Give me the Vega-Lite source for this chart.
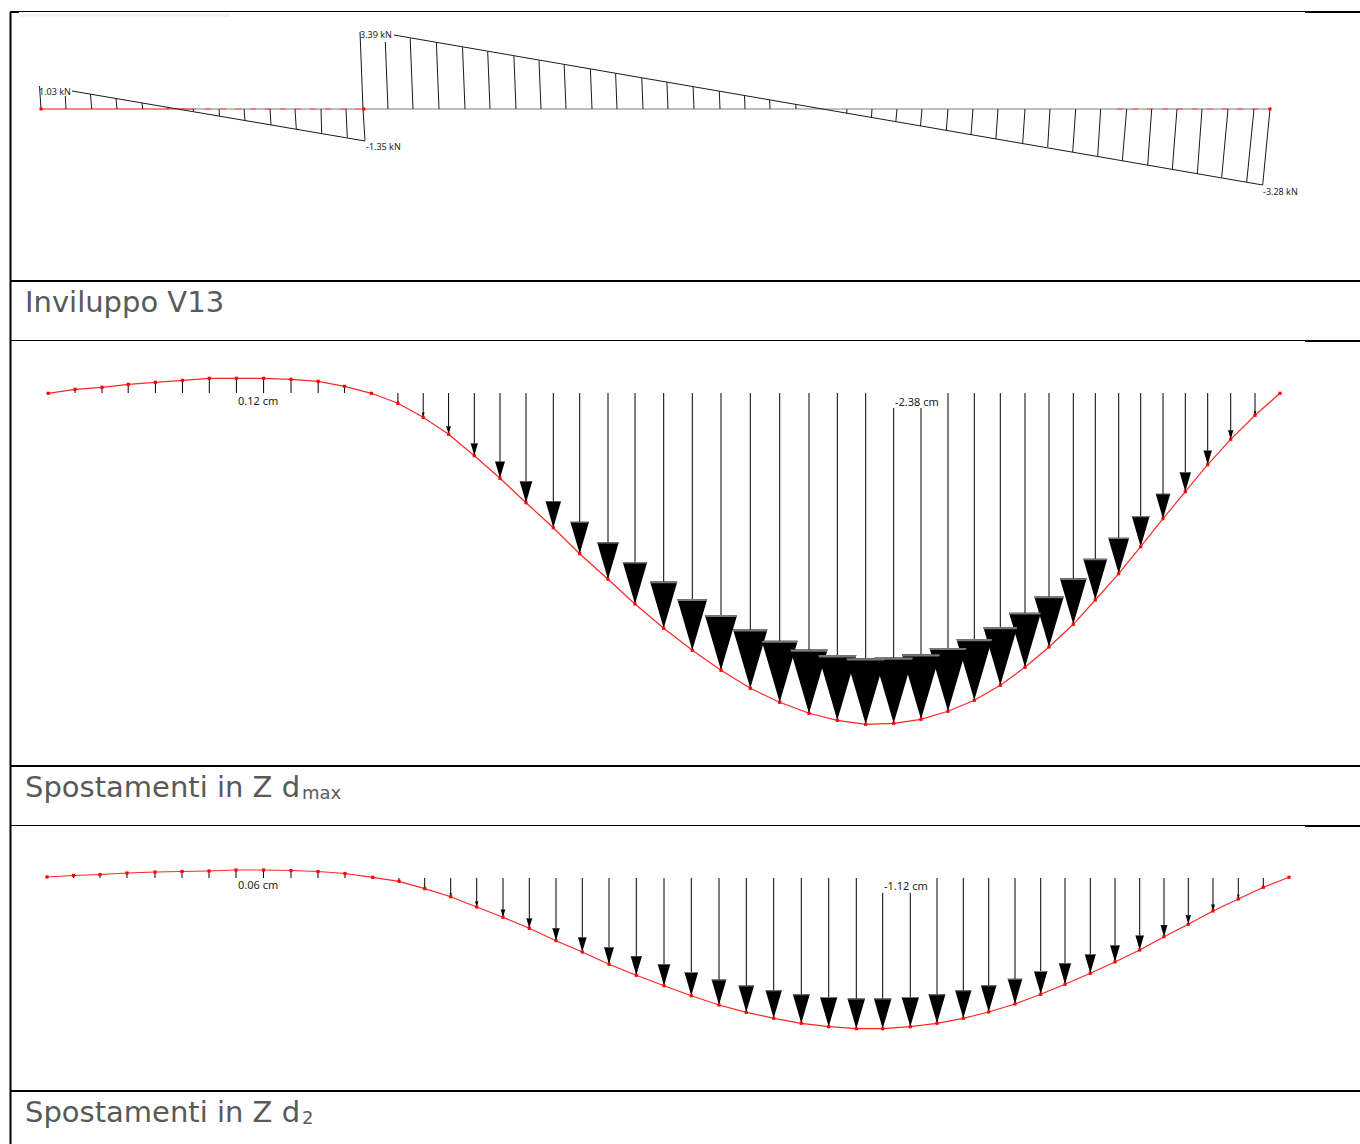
{
"$schema":"https://vega.github.io/schema/vega-lite/v6.json",
"width":1360,"height":1144,"padding":0,
"autosize":"none",
"background":"white",
"config":{"view":{"stroke":null}},
"datasets":{
"frameThick":[
{"x":10.5,"x2":10.5,"y":12,"y2":1144},
{"x":10,"x2":1360,"y":281,"y2":281},
{"x":10,"x2":1360,"y":766,"y2":766},
{"x":10,"x2":1360,"y":1091,"y2":1091},
{"x":1305,"x2":1360,"y":12,"y2":12},
{"x":1305,"x2":1360,"y":341,"y2":341},
{"x":1305,"x2":1360,"y":826,"y2":826},
{"x":10,"x2":19,"y":12,"y2":12}
],
"frameThin":[
{"x":10,"x2":1360,"y":11.5,"y2":11.5},
{"x":10,"x2":1360,"y":340.5,"y2":340.5},
{"x":10,"x2":1360,"y":825.5,"y2":825.5}
],
"faint":[{"x":20,"x2":230,"y":15.5,"y2":15.5}],
"shearAxisGrey":[{"x":180,"x2":1270,"y":109,"y2":109}],
"shearAxisRed":[{"x":41,"x2":190,"y":109,"y2":109}],
"shearAxisDash":[{"x":190,"x2":364,"y":109,"y2":109},{"x":1117,"x2":1262,"y":109,"y2":109}],
"shearNodes":[{"x":41,"y":109},{"x":364,"y":109},{"x":1270,"y":109}],
"shearChords":[{"x":72,"x2":365,"y":91,"y2":141},{"x":394,"x2":1262.7,"y":35,"y2":185}],
"shearTicks":[
{"x":41,"y":109,"xTip":39.5,"yTip":86},{"x":66,"y":109,"xTip":65.3,"yTip":96},{"x":91.7,"y":109,"xTip":90.5,"yTip":94},{"x":117,"y":109,"xTip":116,"yTip":98.7},{"x":142.7,"y":109,"xTip":142,"yTip":103},{"x":168,"y":109,"xTip":168,"yTip":107},{"x":193,"y":109,"xTip":193.5,"yTip":111},{"x":219,"y":109,"xTip":219.5,"yTip":116},{"x":244,"y":109,"xTip":245,"yTip":120.5},{"x":270,"y":109,"xTip":271,"yTip":125},{"x":295,"y":109,"xTip":296.3,"yTip":129},{"x":321,"y":109,"xTip":321.7,"yTip":133},{"x":346,"y":109,"xTip":347.3,"yTip":137.5},{"x":363,"y":109,"xTip":365,"yTip":140.5},
{"x":363,"y":109,"xTip":360,"yTip":32},{"x":388,"y":109,"xTip":385.3,"yTip":42},{"x":413,"y":109,"xTip":410.2,"yTip":38.3},{"x":439,"y":109,"xTip":436.4,"yTip":42.8},{"x":465,"y":109,"xTip":462.5,"yTip":47.3},{"x":490,"y":109,"xTip":487.7,"yTip":51.6},{"x":516,"y":109,"xTip":513.9,"yTip":56.1},{"x":541,"y":109,"xTip":539,"yTip":60.4},{"x":566,"y":109,"xTip":564.2,"yTip":64.7},{"x":592,"y":109,"xTip":590.4,"yTip":69.2},{"x":617,"y":109,"xTip":615.6,"yTip":73.5},{"x":643,"y":109,"xTip":641.8,"yTip":78},{"x":668,"y":109,"xTip":666.9,"yTip":82.3},{"x":694,"y":109,"xTip":693.1,"yTip":86.8},{"x":720,"y":109,"xTip":719.3,"yTip":91.3},{"x":745,"y":109,"xTip":744.5,"yTip":95.6},{"x":770,"y":109,"xTip":769.6,"yTip":99.9},{"x":796,"y":109,"xTip":795.8,"yTip":104.4},
{"x":847,"y":109,"xTip":846.7,"yTip":113.3},{"x":872,"y":109,"xTip":871.4,"yTip":117.6},{"x":897,"y":109,"xTip":895.8,"yTip":122},{"x":922,"y":109,"xTip":920.5,"yTip":126},{"x":948,"y":109,"xTip":946.3,"yTip":130.5},{"x":973,"y":109,"xTip":971,"yTip":134.8},{"x":998,"y":109,"xTip":995.9,"yTip":139},{"x":1025,"y":109,"xTip":1022.7,"yTip":143},{"x":1050,"y":109,"xTip":1047.7,"yTip":147},{"x":1075.7,"y":109,"xTip":1072.7,"yTip":152},{"x":1100.7,"y":109,"xTip":1097.7,"yTip":156},{"x":1126.7,"y":109,"xTip":1122.3,"yTip":161},{"x":1151.7,"y":109,"xTip":1147.7,"yTip":165},{"x":1177,"y":109,"xTip":1172.3,"yTip":169.3},{"x":1202,"y":109,"xTip":1197.3,"yTip":174},{"x":1228,"y":109,"xTip":1221.7,"yTip":177.5},{"x":1254,"y":109,"xTip":1246.7,"yTip":182},{"x":1270,"y":109,"xTip":1262.7,"yTip":185}
],
"beam":[
{"p":"dmax","x":48.2,"y":393.3,"top":393,"len":0},{"p":"dmax","x":75,"y":389.3,"top":393,"len":-4},{"p":"dmax","x":102,"y":387.3,"top":393,"len":-6},{"p":"dmax","x":128.2,"y":384.3,"top":393,"len":-9},{"p":"dmax","x":155.4,"y":382.3,"top":393,"len":-11},{"p":"dmax","x":182.5,"y":380.3,"top":393,"len":-13},{"p":"dmax","x":209.3,"y":378.3,"top":393,"len":-15},{"p":"dmax","x":236.4,"y":378.3,"top":393,"len":-15},{"p":"dmax","x":263.6,"y":378.3,"top":393,"len":-15},{"p":"dmax","x":291,"y":379.3,"top":393,"len":-14},{"p":"dmax","x":318.2,"y":381.3,"top":393,"len":-12},{"p":"dmax","x":344.6,"y":386.3,"top":393,"len":-7},{"p":"dmax","x":371.4,"y":393.3,"top":393,"len":0},
{"p":"dmax","x":397.9,"y":403.3,"top":393,"len":10},{"p":"dmax","x":423.2,"y":417.3,"top":393,"len":24},{"p":"dmax","x":448.6,"y":434.3,"top":393,"len":41},{"p":"dmax","x":474.3,"y":455.7,"top":393,"len":62},{"p":"dmax","x":500,"y":478.3,"top":393,"len":84},{"p":"dmax","x":526,"y":502.7,"top":393,"len":109},{"p":"dmax","x":553.3,"y":527.7,"top":393,"len":134},{"p":"dmax","x":579.7,"y":553.7,"top":393,"len":160},{"p":"dmax","x":608,"y":579.3,"top":393,"len":185},{"p":"dmax","x":635,"y":604,"top":393,"len":210},{"p":"dmax","x":663.7,"y":628.3,"top":393,"len":234},{"p":"dmax","x":692.3,"y":650.3,"top":393,"len":256},{"p":"dmax","x":721,"y":670.3,"top":393,"len":276},{"p":"dmax","x":750.3,"y":688.3,"top":393,"len":294},{"p":"dmax","x":779.7,"y":702.3,"top":393,"len":308},{"p":"dmax","x":809,"y":713.3,"top":393,"len":319},{"p":"dmax","x":837.3,"y":720.3,"top":393,"len":326},{"p":"dmax","x":865.7,"y":724.3,"top":393,"len":330},{"p":"dmax","x":893.7,"y":723.3,"top":408,"len":329},{"p":"dmax","x":921,"y":719.3,"top":408,"len":325},{"p":"dmax","x":948,"y":711.3,"top":393,"len":317},{"p":"dmax","x":974.3,"y":700.3,"top":393,"len":306},{"p":"dmax","x":1000.3,"y":685.3,"top":393,"len":291},{"p":"dmax","x":1025,"y":667.3,"top":393,"len":273},{"p":"dmax","x":1049,"y":647,"top":393,"len":253},{"p":"dmax","x":1073.3,"y":624.3,"top":393,"len":230},{"p":"dmax","x":1095.3,"y":600,"top":393,"len":206},{"p":"dmax","x":1118.7,"y":573.7,"top":393,"len":180},{"p":"dmax","x":1140.7,"y":546.7,"top":393,"len":153},{"p":"dmax","x":1163,"y":518.7,"top":393,"len":125},{"p":"dmax","x":1185.3,"y":491.7,"top":393,"len":98},{"p":"dmax","x":1207.7,"y":464.7,"top":393,"len":71},{"p":"dmax","x":1230.7,"y":439.3,"top":393,"len":46},{"p":"dmax","x":1255,"y":415.3,"top":393,"len":21},{"p":"dmax","x":1280,"y":393.3,"top":393,"len":0},
{"p":"d2","x":47,"y":877,"top":878,"len":0},{"p":"d2","x":73.5,"y":875.5,"top":878,"len":-2.5},{"p":"d2","x":100,"y":874.5,"top":878,"len":-3.5},{"p":"d2","x":127,"y":873,"top":878,"len":-5},{"p":"d2","x":155,"y":872,"top":878,"len":-6},{"p":"d2","x":182,"y":871.5,"top":878,"len":-6.5},{"p":"d2","x":209,"y":871,"top":878,"len":-7},{"p":"d2","x":236,"y":870,"top":878,"len":-8},{"p":"d2","x":263.5,"y":870,"top":878,"len":-8},{"p":"d2","x":291,"y":870.5,"top":878,"len":-7.5},{"p":"d2","x":318,"y":871.5,"top":878,"len":-6.5},{"p":"d2","x":345,"y":873.5,"top":878,"len":-4.5},{"p":"d2","x":372.7,"y":877.3,"top":878,"len":-1},
{"p":"d2","x":399,"y":881.3,"top":878,"len":3},{"p":"d2","x":424.7,"y":888.7,"top":878,"len":11},{"p":"d2","x":450.7,"y":896.7,"top":878,"len":19},{"p":"d2","x":476.7,"y":907,"top":878,"len":29},{"p":"d2","x":503,"y":917.3,"top":878,"len":39},{"p":"d2","x":529.3,"y":928.3,"top":878,"len":50},{"p":"d2","x":556,"y":940.7,"top":878,"len":63},{"p":"d2","x":582.3,"y":952,"top":878,"len":74},{"p":"d2","x":609,"y":964.3,"top":878,"len":86},{"p":"d2","x":636.3,"y":975.3,"top":878,"len":97},{"p":"d2","x":664,"y":985.7,"top":878,"len":108},{"p":"d2","x":691.3,"y":995.7,"top":878,"len":118},{"p":"d2","x":719,"y":1005,"top":878,"len":127},{"p":"d2","x":746.3,"y":1012.3,"top":878,"len":134},{"p":"d2","x":773.7,"y":1018.3,"top":878,"len":140},{"p":"d2","x":801.3,"y":1023.3,"top":878,"len":145},{"p":"d2","x":828.7,"y":1026.7,"top":878,"len":149},{"p":"d2","x":856.3,"y":1028.7,"top":878,"len":151},{"p":"d2","x":882.7,"y":1028.7,"top":892.7,"len":151},{"p":"d2","x":910.3,"y":1026.7,"top":892.7,"len":149},{"p":"d2","x":937,"y":1023.3,"top":878,"len":145},{"p":"d2","x":963.3,"y":1018.3,"top":878,"len":140},{"p":"d2","x":988.7,"y":1012,"top":878,"len":134},{"p":"d2","x":1015,"y":1004,"top":878,"len":126},{"p":"d2","x":1040.7,"y":994.3,"top":878,"len":116},{"p":"d2","x":1065,"y":984.3,"top":878,"len":106},{"p":"d2","x":1090.3,"y":973.3,"top":878,"len":95},{"p":"d2","x":1115,"y":962,"top":878,"len":84},{"p":"d2","x":1139.7,"y":950,"top":878,"len":72},{"p":"d2","x":1164,"y":936.7,"top":878,"len":59},{"p":"d2","x":1188.3,"y":924.3,"top":878,"len":46},{"p":"d2","x":1213,"y":911,"top":878,"len":33},{"p":"d2","x":1238.3,"y":899,"top":878,"len":21},{"p":"d2","x":1263.3,"y":887.3,"top":878,"len":9},{"p":"d2","x":1289,"y":877.3,"top":878,"len":0}
],
"kn":[{"t":"1.03 kN","x":39,"y":95},{"t":"3.39 kN","x":360,"y":38},{"t":"-1.35 kN","x":366,"y":150},{"t":"-3.28 kN","x":1263,"y":195}],
"cm":[{"t":"0.12 cm","x":238,"y":405},{"t":"-2.38 cm","x":895,"y":406},{"t":"0.06 cm","x":238,"y":889},{"t":"-1.12 cm","x":884,"y":890}],
"titles":[{"t":"Inviluppo V13","x":25,"y":312},{"t":"Spostamenti in Z d","x":25,"y":797},{"t":"Spostamenti in Z d","x":25,"y":1122}],
"subs":[{"t":"max","x":302,"y":799},{"t":"2","x":302,"y":1124}]
},
"encoding":{
"x":{"field":"x","type":"quantitative","axis":null,"scale":{"domain":[0,1360],"nice":false,"zero":false}},
"y":{"field":"y","type":"quantitative","axis":null,"scale":{"domain":[1144,0],"nice":false,"zero":false}}
},
"layer":[
{"data":{"name":"faint"},"mark":{"type":"rule","stroke":"#f3f3f3","strokeWidth":3},"encoding":{"x2":{"field":"x2"},"y2":{"field":"y2"}}},
{"data":{"name":"frameThin"},"mark":{"type":"rule","stroke":"#000000","strokeWidth":1},"encoding":{"x2":{"field":"x2"},"y2":{"field":"y2"}}},
{"data":{"name":"frameThick"},"mark":{"type":"rule","stroke":"#000000","strokeWidth":2},"encoding":{"x2":{"field":"x2"},"y2":{"field":"y2"}}},
{"data":{"name":"shearAxisGrey"},"mark":{"type":"rule","stroke":"#808080","strokeWidth":1.2},"encoding":{"x2":{"field":"x2"},"y2":{"field":"y2"}}},
{"data":{"name":"shearAxisRed"},"mark":{"type":"rule","stroke":"#ff5c5c","strokeWidth":1.4},"encoding":{"x2":{"field":"x2"},"y2":{"field":"y2"}}},
{"data":{"name":"shearAxisDash"},"mark":{"type":"rule","stroke":"#ff6a6a","strokeWidth":1.4,"strokeDash":[6,9]},"encoding":{"x2":{"field":"x2"},"y2":{"field":"y2"}}},
{"data":{"name":"shearChords"},"mark":{"type":"rule","stroke":"#1a1a1a","strokeWidth":1},"encoding":{"x2":{"field":"x2"},"y2":{"field":"y2"}}},
{"data":{"name":"shearTicks"},"mark":{"type":"rule","stroke":"#1a1a1a","strokeWidth":1},"encoding":{"x2":{"field":"xTip"},"y2":{"field":"yTip"}}},
{"data":{"name":"shearNodes"},"mark":{"type":"square","color":"#ff0000","size":9,"opacity":1},"encoding":{}},
{"data":{"name":"beam"},"mark":{"type":"rule","stroke":"#000000","strokeWidth":1},"encoding":{"y2":{"field":"top"}}},
{"data":{"name":"beam"},"transform":[{"filter":"datum.len > 0"}],"mark":{"type":"point","filled":true,"opacity":1,"color":"#000000","strokeWidth":0,"shape":"M-0.2925,-1L0.2925,-1L0,0Z"},"encoding":{"size":{"field":"len","type":"quantitative","legend":null,"scale":{"type":"pow","exponent":2,"domain":[0,330],"range":[0,17424]}}}},
{"data":{"name":"beam"},"transform":[{"filter":"datum.len > 0"}],"mark":{"type":"point","filled":true,"opacity":1,"color":"#777777","strokeWidth":0,"shape":"M-0.2925,-1L0.2925,-1L0.28,-0.965L-0.28,-0.965Z"},"encoding":{"size":{"field":"len","type":"quantitative","legend":null,"scale":{"type":"pow","exponent":2,"domain":[0,330],"range":[0,17424]}}}},
{"data":{"name":"beam"},"mark":{"type":"line","color":"#ff0000","strokeWidth":1.2,"opacity":0.85},"encoding":{"detail":{"field":"p"}}},
{"data":{"name":"beam"},"mark":{"type":"square","color":"#ff0000","size":10,"opacity":1},"encoding":{}},
{"data":{"name":"kn"},"mark":{"type":"text","align":"left","baseline":"alphabetic","font":"Noto Sans","fontSize":9,"fill":"#222222"},"encoding":{"text":{"field":"t"}}},
{"data":{"name":"cm"},"mark":{"type":"text","align":"left","baseline":"alphabetic","font":"Noto Sans","fontSize":11,"fill":"#222222"},"encoding":{"text":{"field":"t"}}},
{"data":{"name":"titles"},"mark":{"type":"text","align":"left","baseline":"alphabetic","font":"DejaVu Sans","fontSize":29,"fill":"#595959"},"encoding":{"text":{"field":"t"}}},
{"data":{"name":"subs"},"mark":{"type":"text","align":"left","baseline":"alphabetic","font":"DejaVu Sans","fontSize":18,"fill":"#595959"},"encoding":{"text":{"field":"t"}}}
]
}
